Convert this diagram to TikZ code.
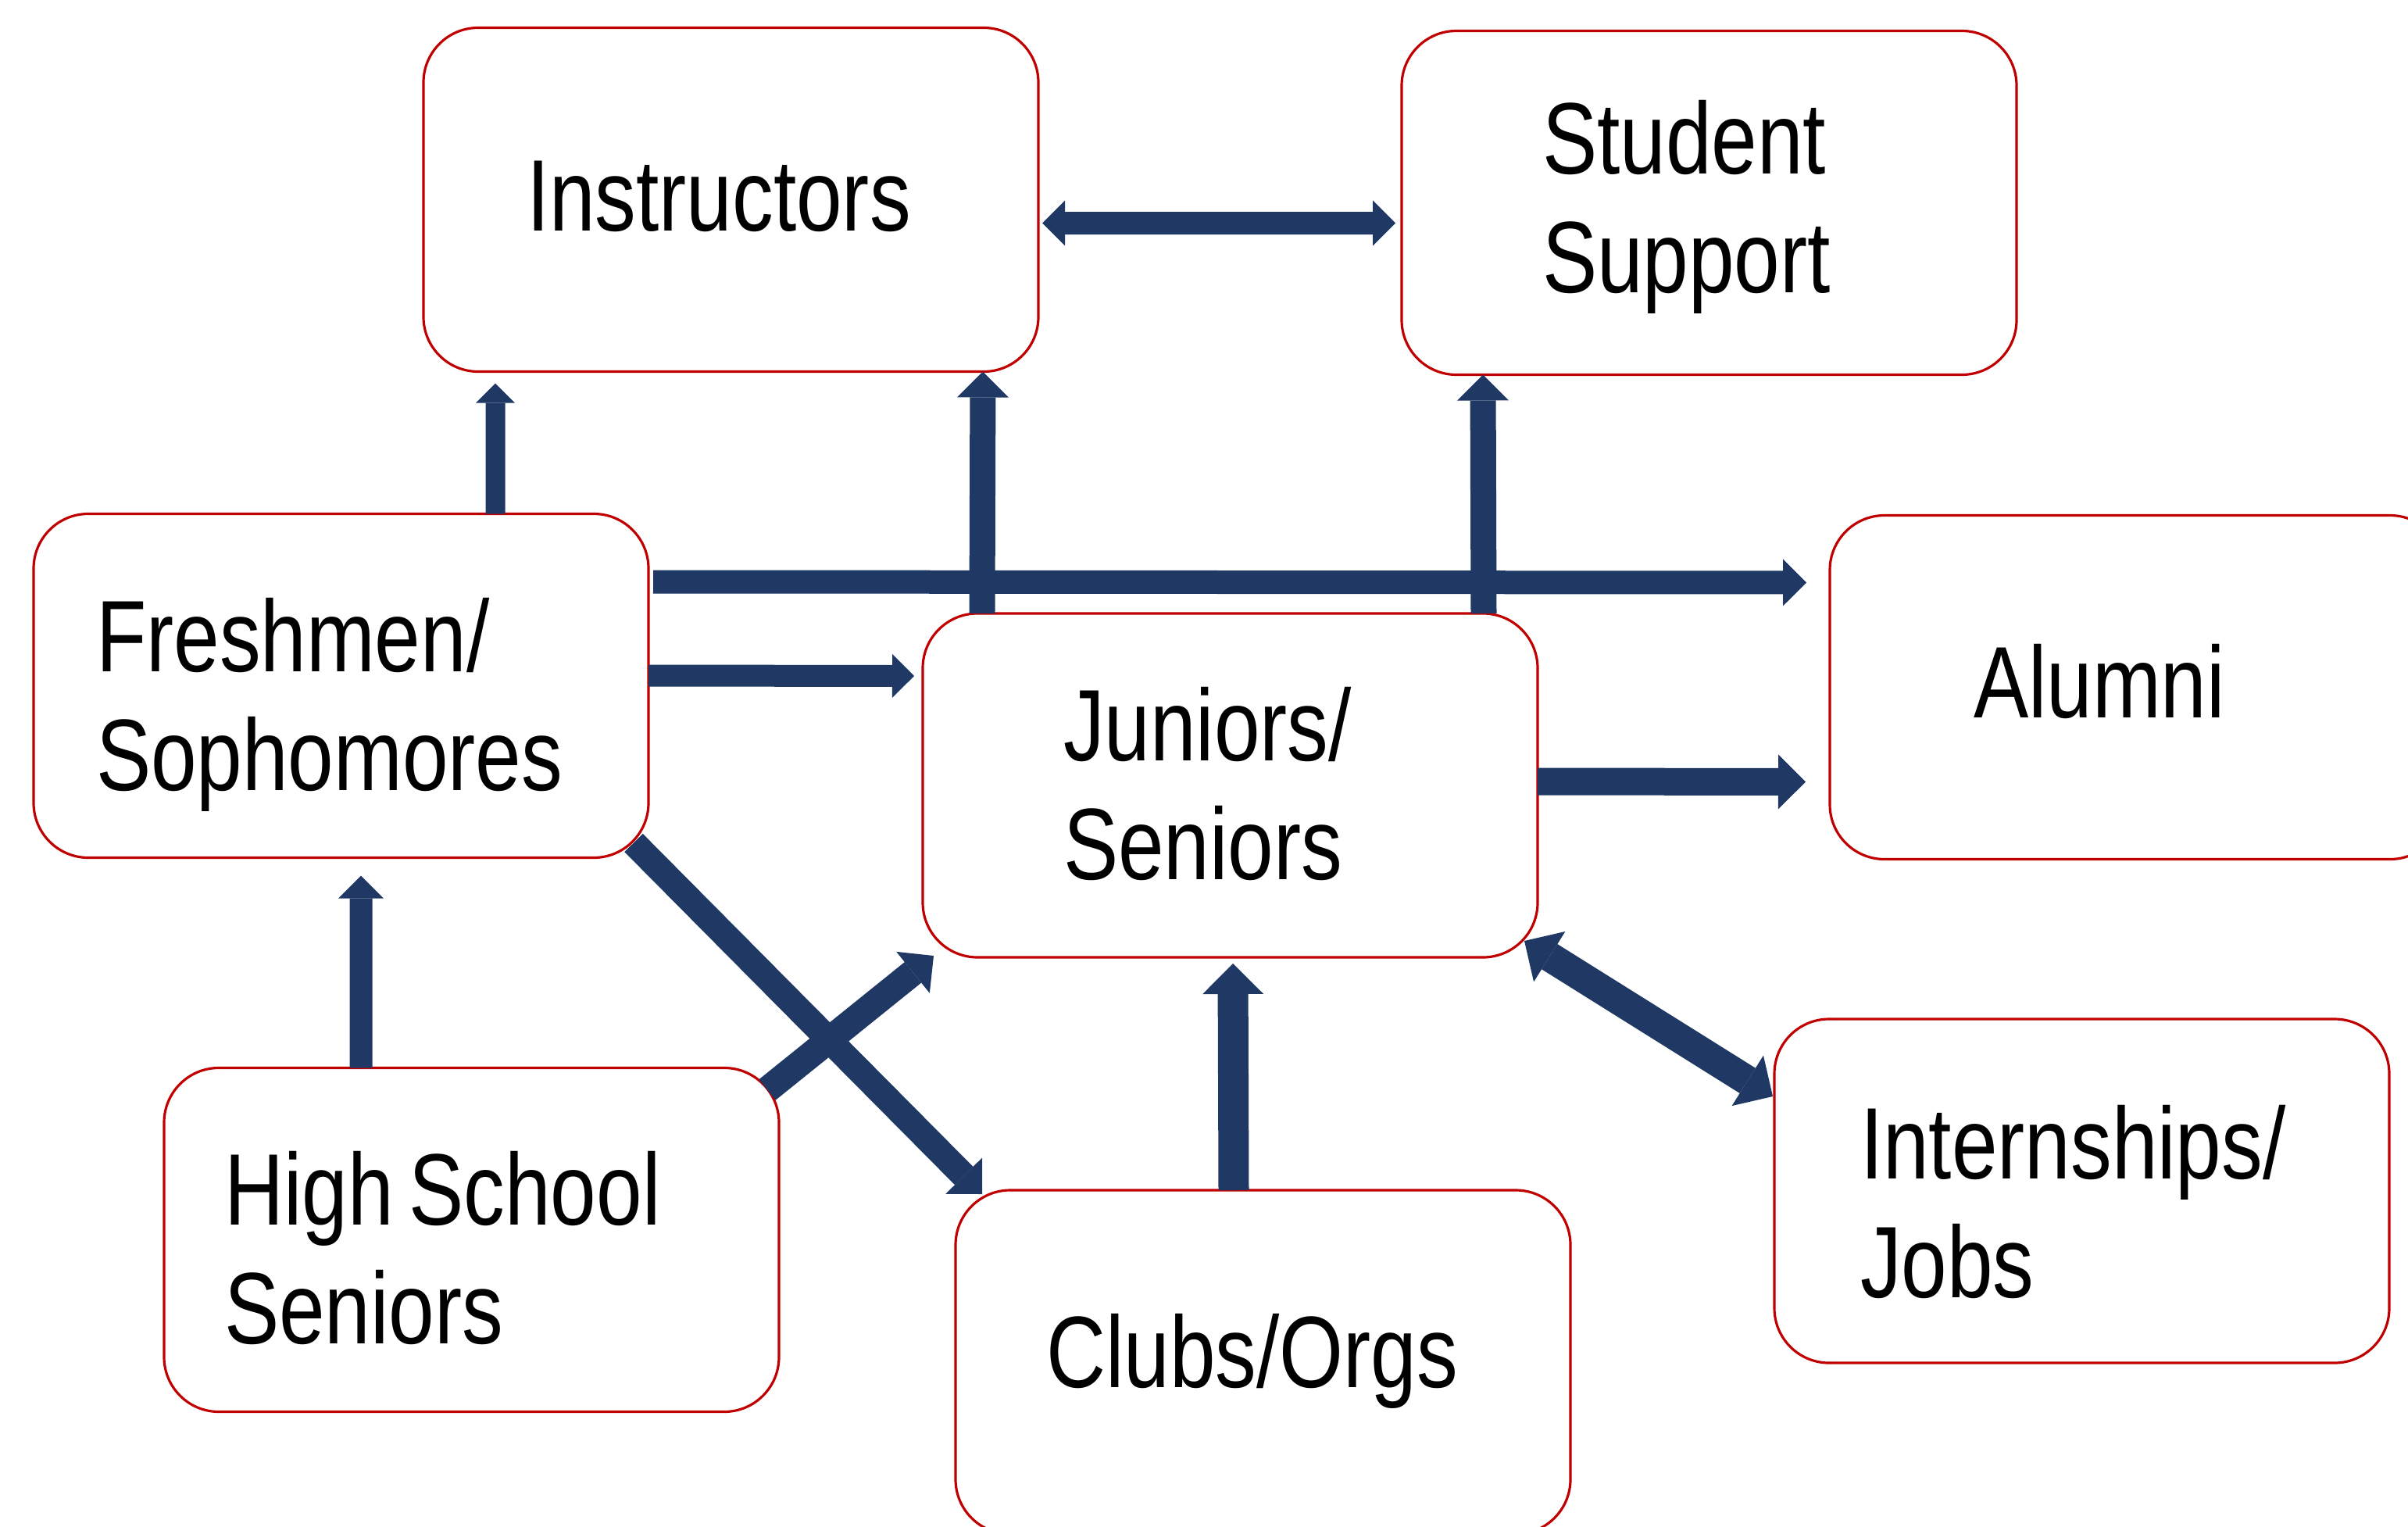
\documentclass[tikz,border=0pt]{standalone}
\usepackage{fontspec}
\setmainfont{Liberation Sans}[FakeStretch=0.81]
\usetikzlibrary{arrows.meta}
\definecolor{boxred}{RGB}{192,0,0}
\definecolor{arrowblue}{RGB}{32,56,100}
\tikzset{
    box/.style={draw=boxred, line width=0.9pt, fill=white, rounded corners=0.7cm,
        minimum width=7.87cm, minimum height=4.4cm, inner sep=0pt, outer sep=0pt,
        align=left, text height=1.3cm, font=\fontsize{37}{43.3}\selectfont},
    tip/.tip={Triangle[length=0pt 1, width=0pt 2, line width=0pt]},
    flow/.style={draw=arrowblue, line width=#1, -tip},
    flows/.style={draw=arrowblue, line width=#1, tip-tip}
}

\begin{document}
\begin{tikzpicture}
    \useasboundingbox (0, 0) rectangle (30.82, -19.54);
    \clip (0, 0) rectangle (30.82, -19.54);

    \node[box, text width=5.23cm, text depth=0.51cm] (instr) at (9.355, -2.555) {Instructors};
    \node[box, text width=4.27cm, text depth=2.05cm] (stu) at (21.875, -2.595) {Student\\Support};
    \node[box, text width=6.27cm, text depth=1.67cm] (fresh) at (4.365, -8.775) {Freshmen/\\Sophomores};
    \node[box, text width=4.27cm, text depth=1.94cm] (jun) at (15.745, -10.05) {Juniors/\\Seniors};
    \node[box, text width=4.19cm, text depth=0.53cm] (alum) at (27.355, -8.795) {Alumni};
    \node[box, text width=6.33cm, text depth=1.69cm] (hs) at (6.035, -15.865) {High\hspace{0.2cm}School\\Seniors};
    \node[box, text width=5.55cm, text depth=0.66cm] (clubs) at (16.165, -17.43) {Clubs/Orgs};
    \node[box, text width=5.67cm, text depth=1.62cm] (intern) at (26.645, -15.24) {Internships/\\Jobs};

    % upper row
    \draw[flows=0.29cm] ([xshift=0.05cm, yshift=-2.5cm]instr.north east)
        -- ([xshift=-0.08cm, yshift=-2.46cm]stu.north west);
    \draw[flow=0.25cm] ([xshift=5.91cm]fresh.north west)
        -- ([xshift=0.92cm, yshift=-0.15cm]instr.south west);
    \draw[flow=0.33cm] ([xshift=0.76cm]jun.north west)
        -- ([xshift=-0.71cm]instr.south east);
    \draw[flow=0.33cm] ([xshift=-0.69cm]jun.north east)
        -- ([xshift=1.04cm]stu.south west);

    % to the right
    \draw[flow=0.30cm] ([xshift=0.06cm, yshift=-0.87cm]fresh.north east)
        -- ([xshift=-0.30cm, yshift=-0.86cm]alum.north west);
    \draw[flow=0.28cm] ([yshift=-2.07cm]fresh.north east)
        -- ([xshift=-0.11cm, yshift=-0.80cm]jun.north west);
    \draw[flow=0.35cm] ([yshift=-2.15cm]jun.north east)
        -- ([xshift=-0.31cm, yshift=-3.41cm]alum.north west);

    % lower row
    \draw[flow=0.29cm] ([xshift=2.52cm]hs.north west)
        -- ([xshift=4.19cm, yshift=-0.23cm]fresh.south west);
    \draw[flow=0.39cm] ([xshift=3.56cm]clubs.north west)
        -- ([xshift=3.97cm, yshift=-0.08cm]jun.south west);
    \draw[flow=0.33cm] ([xshift=-0.19cm, yshift=0.19cm]fresh.south east)
        -- ([xshift=0.34cm, yshift=-0.05cm]clubs.north west);
    \draw[flow=0.34cm] ([xshift=-0.15cm, yshift=-0.28cm]hs.north east)
        -- ([xshift=0.14cm, yshift=0.02cm]jun.south west);
    \draw[flows=0.38cm] ([xshift=-0.17cm, yshift=0.21cm]jun.south east)
        -- ([xshift=-0.02cm, yshift=-0.99cm]intern.north west);
\end{tikzpicture}
\end{document}
